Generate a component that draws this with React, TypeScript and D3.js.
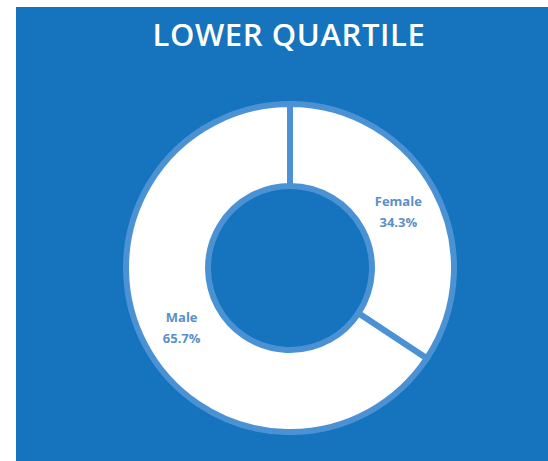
import React, { useRef, useEffect } from 'react'
import * as d3 from 'd3'

const categories = ['Female', 'Male']
const shares = [34.3, 65.7]
const title = 'LOWER QUARTILE'

const W = 548
const H = 461

export default function App() {
  const svgRef = useRef<SVGSVGElement>(null)

  useEffect(() => {
    if (!svgRef.current) return
    const svg = d3.select(svgRef.current)
    svg.selectAll('*').remove()

    // white page, blue panel
    svg.append('rect').attr('width', W).attr('height', H).attr('fill', '#fff')
    svg.append('rect')
      .attr('x', 16).attr('y', 7)
      .attr('width', W - 16).attr('height', H - 7)
      .attr('fill', '#1673bd')

    svg.append('text')
      .attr('x', 289).attr('y', 46)
      .attr('text-anchor', 'middle')
      .attr('font-family', '"Open Sans", sans-serif')
      .attr('font-weight', 600)
      .attr('font-size', 31)
      .attr('letter-spacing', 0.6)
      .attr('fill', '#fff')
      .text(title)

    const cx = 290
    const cy = 268
    const outer = 164
    const inner = 82

    const data = categories.map((c, i) => ({ name: c, value: shares[i] }))
    const pie = d3.pie<{ name: string; value: number }>()
      .value(d => d.value)
      .sort(null)
    const arc = d3.arc<d3.PieArcDatum<{ name: string; value: number }>>()
      .innerRadius(inner)
      .outerRadius(outer)

    const g = svg.append('g').attr('transform', `translate(${cx},${cy})`)
    const arcs = pie(data)

    g.selectAll('path')
      .data(arcs)
      .join('path')
      .attr('d', arc)
      .attr('fill', '#fff')
      .attr('stroke', '#4b92d4')
      .attr('stroke-width', 6)
      .attr('stroke-linejoin', 'miter')

    // labels
    const labels = g.selectAll('.lbl')
      .data(arcs)
      .join('text')
      .attr('class', 'lbl')
      .attr('transform', d => `translate(${arc.centroid(d)})`)
      .attr('text-anchor', 'middle')
      .attr('font-family', '"Open Sans", sans-serif')
      .attr('font-weight', 'bold')
      .attr('font-size', 13)
      .attr('fill', '#5a8fca')

    labels.append('tspan').attr('x', 0).attr('dy', -4).text(d => d.data.name)
    labels.append('tspan').attr('x', 0).attr('dy', 21).text(d => `${d.data.value.toFixed(1)}%`)
  }, [])

  return (
    <svg
      ref={svgRef}
      width={W}
      height={H}
      style={{ position: 'absolute', left: 0, top: 0, display: 'block' }}
    />
  )
}
